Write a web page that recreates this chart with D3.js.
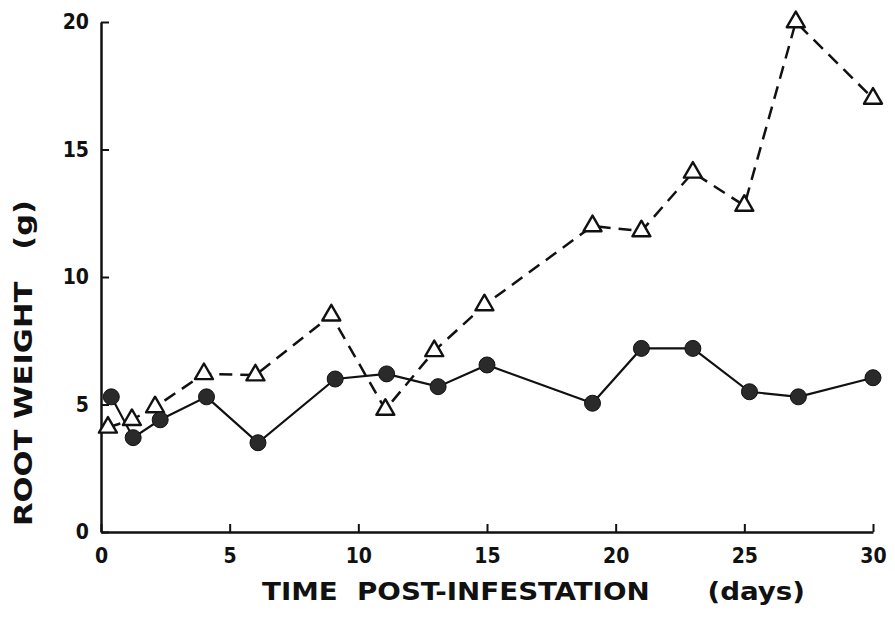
<!DOCTYPE html>
<html>
<head>
<meta charset="utf-8">
<script src="https://cdn.jsdelivr.net/npm/d3@7"></script>
<style>
  body { margin: 0; background: #fff; }
  svg { display: block; }
  text { font-family: "DejaVu Sans", sans-serif; font-weight: bold; fill: #111; }
</style>
</head>
<body>
<div id="chart"></div>
<script>
// solid line, filled circles
const daysInfested    = [0.4, 1.25, 2.3, 4.1, 6.1, 9.1, 11.1, 13.1, 15, 19.1, 21, 23, 25.2, 27.1, 30];
const weightInfested  = [5.3, 3.7, 4.4, 5.3, 3.5, 6.0, 6.2, 5.7, 6.55, 5.05, 7.2, 7.2, 5.5, 5.3, 6.05];
// dashed line, open triangles
const daysControl     = [0.27, 1.2, 2.1, 4.0, 6.0, 8.95, 11.05, 12.95, 14.9, 19.1, 21, 23, 25, 27, 30];
const weightControl   = [4.1, 4.4, 4.9, 6.2, 6.15, 8.5, 4.8, 7.1, 8.9, 12.0, 11.8, 14.1, 12.8, 20.0, 17.0];

const xTicks = [0, 5, 10, 15, 20, 25, 30];
const yTicks = [0, 5, 10, 15, 20];

const W = 895, H = 617;
const margin = {top: 22, right: 22, bottom: 85, left: 101};
const width = W - margin.left - margin.right,
      height = H - margin.top - margin.bottom;

const svg = d3.select("#chart").append("svg")
    .attr("width", W)
    .attr("height", H);

const g = svg.append("g")
    .attr("transform", `translate(${margin.left},${margin.top})`);

const xScale = d3.scaleLinear().domain([0, 30]).range([0, width]);
const yScale = d3.scaleLinear().domain([0, 20]).range([height, 0]);

// x-axis (ticks pointing inward)
const xAxis = g.append("g")
    .attr("transform", `translate(0,${height})`)
    .call(d3.axisBottom(xScale).tickValues(xTicks).tickSizeInner(-8).tickSizeOuter(0).tickPadding(16));
xAxis.select(".domain").attr("stroke", "#111").attr("stroke-width", 2.5);
xAxis.selectAll(".tick line").attr("stroke", "#111").attr("stroke-width", 2);
xAxis.selectAll(".tick text")
    .style("font-size", "21px")
    .style("font-family", "'DejaVu Sans Condensed', 'DejaVu Sans', sans-serif")
    .attr("fill", "#111");

// y-axis
const yAxis = g.append("g")
    .call(d3.axisLeft(yScale).tickValues(yTicks).tickSizeInner(-8).tickSizeOuter(0).tickPadding(12));
yAxis.select(".domain").attr("stroke", "#111").attr("stroke-width", 2.5);
yAxis.selectAll(".tick line").attr("stroke", "#111").attr("stroke-width", 2);
yAxis.selectAll(".tick text")
    .style("font-size", "21px")
    .style("font-family", "'DejaVu Sans Condensed', 'DejaVu Sans', sans-serif")
    .attr("fill", "#111");

// axis titles
svg.append("text")
    .attr("x", 262)
    .attr("y", 600)
    .attr("textLength", 543)
    .attr("lengthAdjust", "spacingAndGlyphs")
    .style("font-size", "24px")
    .style("font-family", "'DejaVu Sans Condensed', 'DejaVu Sans', sans-serif")
    .attr("xml:space", "preserve")
    .text("TIME  POST-INFESTATION      (days)");

svg.append("text")
    .attr("transform", "translate(32,526) rotate(-90)")
    .attr("textLength", 326)
    .attr("lengthAdjust", "spacingAndGlyphs")
    .style("font-size", "24px")
    .style("font-family", "'DejaVu Sans Condensed', 'DejaVu Sans', sans-serif")
    .attr("xml:space", "preserve")
    .text("ROOT WEIGHT   (g)");

const line = d3.line()
    .x(d => xScale(d[0]))
    .y(d => yScale(d[1]));

const control = daysControl.map((d, i) => [d, weightControl[i]]);
const infested = daysInfested.map((d, i) => [d, weightInfested[i]]);

// dashed series
g.append("path")
    .datum(control)
    .attr("d", line)
    .attr("fill", "none")
    .attr("stroke", "#111")
    .attr("stroke-width", 2.5)
    .attr("stroke-dasharray", "13,8");

// solid series
g.append("path")
    .datum(infested)
    .attr("d", line)
    .attr("fill", "none")
    .attr("stroke", "#111")
    .attr("stroke-width", 2.2);

// triangles
const tri = d3.symbol().type(d3.symbolTriangle).size(140);
g.selectAll(".tri")
    .data(control)
    .enter()
    .append("path")
    .attr("class", "tri")
    .attr("transform", d => `translate(${xScale(d[0])},${yScale(d[1])})`)
    .attr("d", tri)
    .attr("fill", "#fff")
    .attr("stroke", "#111")
    .attr("stroke-width", 2.4)
    .attr("stroke-linejoin", "round");

// filled circles
g.selectAll(".dot")
    .data(infested)
    .enter()
    .append("circle")
    .attr("class", "dot")
    .attr("cx", d => xScale(d[0]))
    .attr("cy", d => yScale(d[1]))
    .attr("r", 8)
    .attr("fill", "#2a2a2a")
    .attr("stroke", "#111")
    .attr("stroke-width", 1);
</script>
</body>
</html>
